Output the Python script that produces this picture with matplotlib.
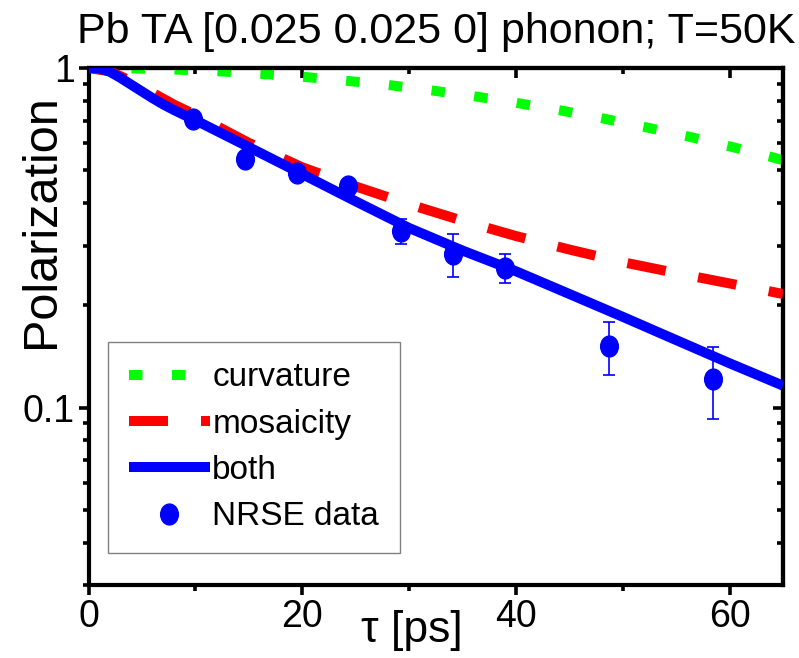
import numpy as np
import matplotlib
matplotlib.use("Agg")
import matplotlib.pyplot as plt
from matplotlib.ticker import FixedLocator, MultipleLocator, LogLocator, NullFormatter, FixedFormatter
from matplotlib.path import Path
from matplotlib.transforms import Affine2D

plt.rcParams['font.family'] = ['Liberation Sans', 'DejaVu Sans']

# curvature only (green dotted)
tau_curv = [0, 4, 8, 12, 16, 20, 24, 28, 32, 36, 40, 44, 48, 52, 56, 60, 64, 65]
p_curv = [1.0, 0.997, 0.99, 0.979, 0.962, 0.943, 0.918, 0.892, 0.860, 0.827,
          0.790, 0.752, 0.712, 0.671, 0.630, 0.588, 0.546, 0.535]

# mosaicity only (red dashed)
tau_mos = [0, 2, 4, 6, 8, 10, 15, 20, 25, 30, 35, 40, 45, 50, 55, 60, 65]
p_mos = [1.0, 0.978, 0.915, 0.845, 0.78, 0.728, 0.602, 0.51, 0.448, 0.397,
         0.355, 0.32, 0.292, 0.268, 0.249, 0.232, 0.216]

# both (blue solid)
tau_both = [0, 1, 2, 3, 4, 5, 6, 7, 8, 9, 10, 15, 20, 25, 30, 35, 40, 45, 50, 55, 60, 65]
p_both = [1.0, 0.997, 0.975, 0.935, 0.893, 0.853, 0.815, 0.781, 0.752, 0.726, 0.702,
          0.585, 0.487, 0.405, 0.338, 0.29, 0.252, 0.216, 0.185, 0.158, 0.135, 0.116]

# NRSE data
tau_data = [9.8, 14.6, 19.5, 24.3, 29.2, 34.1, 38.95, 48.7, 58.4]
p_data = [0.707, 0.538, 0.491, 0.45, 0.331, 0.284, 0.258, 0.152, 0.1215]
p_err = [0.015, 0.015, 0.015, 0.015, 0.027, 0.041, 0.026, 0.027, 0.029]

fig = plt.figure(figsize=(7.99, 6.58), dpi=100)
ax = fig.add_axes([0.1108, 0.1109, 0.8692, 0.7857])

lw = 7.2
ax.plot(tau_curv, p_curv, color='#00ff00', lw=lw, dashes=(1.35, 2.95),
        dash_capstyle='butt', label='curvature', zorder=2)
ax.plot(tau_mos, p_mos, color='#ff0000', lw=lw, dashes=(3.9, 3.3),
        dash_capstyle='butt', label='mosaicity', zorder=3)
ax.plot(tau_both, p_both, color='#0000ff', lw=lw, solid_capstyle='butt',
        solid_joinstyle='round', label='both', zorder=4)

ax.errorbar(tau_data, p_data, yerr=p_err, fmt='none', ecolor='#0000ff',
            elinewidth=1.2, capsize=4, capthick=1.2, zorder=5)
ellipse = Path.unit_circle().transformed(Affine2D().scale(0.85, 1.0))
ax.plot(tau_data, p_data, ls='none', marker=ellipse, ms=15, color='#0000ff',
        label='NRSE data', zorder=6)

ax.set_yscale('log')
ax.set_xlim(0, 65)
ax.set_ylim(0.03, 1)

ax.xaxis.set_major_locator(FixedLocator([0, 20, 40, 60]))
ax.xaxis.set_minor_locator(MultipleLocator(10))
ax.yaxis.set_major_locator(FixedLocator([0.1, 1]))
ax.yaxis.set_major_formatter(FixedFormatter(['0.1', '1']))
ax.yaxis.set_minor_locator(LogLocator(base=10, subs=np.arange(2, 10)))
ax.yaxis.set_minor_formatter(NullFormatter())

for s in ax.spines.values():
    s.set_linewidth(3)
ax.tick_params(which='major', direction='out', length=7, width=2.6,
               labelsize=27, pad=3)
ax.tick_params(which='minor', direction='out', length=4, width=2.6)

# inward ticks on top / right
secx = ax.secondary_xaxis('top')
secx.xaxis.set_major_locator(FixedLocator([0, 20, 40, 60]))
secx.xaxis.set_minor_locator(MultipleLocator(10))
secx.tick_params(which='major', direction='in', length=7, width=2.6, labeltop=False)
secx.tick_params(which='minor', direction='in', length=4, width=2.6)
secx.spines['top'].set_linewidth(3)

secy = ax.secondary_yaxis('right')
secy.yaxis.set_major_locator(FixedLocator([0.1, 1]))
secy.yaxis.set_minor_locator(LogLocator(base=10, subs=np.arange(2, 10)))
secy.yaxis.set_minor_formatter(NullFormatter())
secy.tick_params(which='major', direction='in', length=7, width=2.6, labelright=False)
secy.tick_params(which='minor', direction='in', length=4, width=2.6)
secy.spines['right'].set_linewidth(3)

ax.set_title('Pb TA [0.025 0.025 0] phonon; T=50K', fontsize=31, pad=18, x=0.5)
ax.set_ylabel('Polarization', fontsize=35)
ax.yaxis.set_label_coords(-0.036, 0.704)
ax.set_xlabel('τ [ps]', fontsize=32)
ax.xaxis.set_label_coords(0.466, -0.048)

leg = ax.legend(loc='lower left', bbox_to_anchor=(0.028, 0.062), borderaxespad=0,
                prop={'size': 24}, fancybox=False, framealpha=1, edgecolor='#808080',
                handlelength=2.43, handletextpad=0.08, labelspacing=0.46,
                borderpad=0.62, numpoints=1)
leg.get_frame().set_linewidth(1)

fig.savefig('out.png', dpi=100)
